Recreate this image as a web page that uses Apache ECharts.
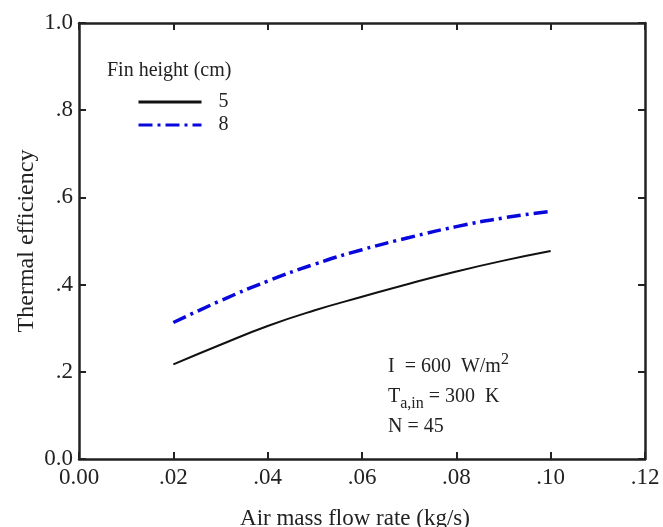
<!DOCTYPE html>
<html>
<head>
<meta charset="utf-8">
<script src="https://cdn.jsdelivr.net/npm/echarts@6/dist/echarts.min.js"></script>
<style>
  html, body { margin: 0; padding: 0; background: #fff; }
  #chart { width: 663px; height: 527px; }
</style>
</head>
<body>
<div id="chart"></div>
<script>
// Air mass flow rate (kg/s)
const flowRates = [0.02, 0.03, 0.04, 0.05, 0.06, 0.07, 0.08, 0.09, 0.10];
// Thermal efficiency for each fin height
const effFin5 = [0.217, 0.262, 0.305, 0.341, 0.372, 0.402, 0.430, 0.455, 0.477];
const effFin8 = [0.313, 0.363, 0.408, 0.447, 0.480, 0.508, 0.533, 0.553, 0.568];
const seriesNames = ['5', '8'];
const xTickLabels = ['0.00', '.02', '.04', '.06', '.08', '.10', '.12'];
const yTickLabels = ['0.0', '.2', '.4', '.6', '.8', '1.0'];

const FONT = '"Liberation Serif", "DejaVu Serif", serif';
const AXIS_COLOR = '#222';

function pairs(xs, ys) { return xs.map((x, i) => [x, ys[i]]); }

const chart = echarts.init(document.getElementById('chart'), null, { renderer: 'canvas' });

const axisLine = { show: true, onZero: false, lineStyle: { color: AXIS_COLOR, width: 2.5 } };
const axisTick = { show: true, inside: true, length: 7, lineStyle: { color: AXIS_COLOR, width: 2 } };

chart.setOption({
  animation: false,
  backgroundColor: '#fff',
  grid: { left: 79, top: 23, right: 18, bottom: 68, containLabel: false, outerBoundsMode: 'none' },
  xAxis: [
    {
      type: 'value', min: 0, max: 0.12, interval: 0.02,
      axisLine, axisTick,
      splitLine: { show: false },
      axisLabel: {
        margin: 7, color: '#222', fontFamily: FONT, fontSize: 23,
        formatter: (v) => xTickLabels[Math.round(v / 0.02)]
      },
      name: 'Air mass flow rate (kg/s)', nameLocation: 'middle', nameGap: 48,
      nameTextStyle: { color: '#222', fontFamily: FONT, fontSize: 23, padding: [0, 14, 0, 0] }
    },
    {
      type: 'value', position: 'top', min: 0, max: 0.12, interval: 0.02,
      axisLine, axisTick, axisLabel: { show: false }, splitLine: { show: false }
    }
  ],
  yAxis: [
    {
      type: 'value', min: 0, max: 1, interval: 0.2,
      axisLine, axisTick,
      splitLine: { show: false },
      axisLabel: {
        margin: 6, color: '#222', fontFamily: FONT, fontSize: 23,
        formatter: (v) => yTickLabels[Math.round(v / 0.2)]
      },
      name: 'Thermal efficiency', nameLocation: 'middle', nameGap: 40, nameMoveOverlap: false,
      nameTextStyle: { color: '#222', fontFamily: FONT, fontSize: 24 }
    },
    {
      type: 'value', position: 'right', min: 0, max: 1, interval: 0.2,
      axisLine, axisTick, axisLabel: { show: false }, splitLine: { show: false }
    }
  ],
  legend: {
    orient: 'vertical', left: 132, top: 87,
    itemWidth: 63, itemHeight: 14, itemGap: 3,
    itemStyle: { opacity: 0 },
    lineStyle: { width: 3 },
    textStyle: { color: '#222', fontFamily: FONT, fontSize: 20, padding: [0, 0, 0, 12] },
    data: seriesNames
  },
  series: [
    {
      name: seriesNames[0], type: 'line', data: pairs(flowRates, effFin5),
      smooth: true, symbol: 'none',
      lineStyle: { color: '#111', width: 2 }, itemStyle: { color: '#111' }
    },
    {
      name: seriesNames[1], type: 'line', data: pairs(flowRates, effFin8),
      smooth: true, symbol: 'none',
      lineStyle: { color: '#0808dc', width: 3.5, type: [14, 5, 3, 5] }, itemStyle: { color: '#0808dc' }
    }
  ],
  graphic: [
    {
      type: 'text', left: 107, top: 61,
      style: { text: 'Fin height (cm)', fill: '#222', font: '20px ' + FONT }
    },
    {
      type: 'text', left: 388, top: 352,
      style: {
        text: '{t|I  = 600  W/m}{sup|2}\n{t|T}{sub|a,in}{t| = 300  K}\n{t|N = 45}',
        fill: '#222',
        rich: {
          t: { fontFamily: FONT, fontSize: 20, lineHeight: 30, fill: '#222' },
          sup: { fontFamily: FONT, fontSize: 16, verticalAlign: 'top', padding: [0, 0, 9, 0], fill: '#222' },
          sub: { fontFamily: FONT, fontSize: 16, verticalAlign: 'bottom', padding: [9, 0, 0, 0], fill: '#222' }
        }
      }
    }
  ]
});
</script>
</body>
</html>
